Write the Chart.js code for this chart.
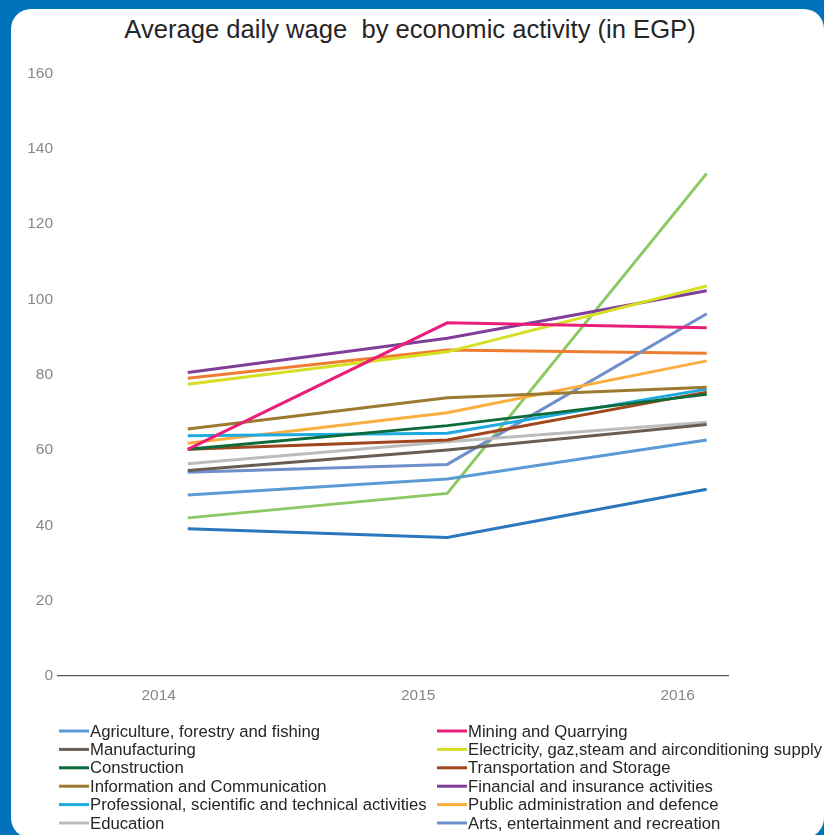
<!DOCTYPE html>
<html>
<head>
<meta charset="utf-8">
<title>Average daily wage by economic activity</title>
<script src="https://cdn.jsdelivr.net/npm/chart.js@4.4.0/dist/chart.umd.min.js"></script>
<style>
  html, body { margin: 0; padding: 0; background: #0072bc; overflow: hidden; width: 824px; height: 835px; }
  .panel { position: absolute; left: 11px; top: 9px; width: 813px; height: 829px; background: #fff; border-radius: 20px; overflow: hidden; }
  .title { position: absolute; left: 0; width: 798px; top: 5px; text-align: center; font: 25.6px "Liberation Sans", Arial, sans-serif; color: #262626; white-space: pre; line-height: 30px; }
  canvas { position: absolute; left: 0; top: 0; }
</style>
</head>
<body>
<div class="panel">
  <div class="title">Average daily wage  by economic activity (in EGP)</div>
  <canvas id="wageChart" width="813" height="829"></canvas>
</div>
<script>
// Years on the x axis
const years = [2014, 2015, 2016];

// Average daily wage (EGP) per activity, one value per year
const agriculture   = [48.1, 52.3, 62.7];
const mining        = [60.2, 93.8, 92.5];
const manufacturing = [54.6, 60.0, 66.8];
const electricity   = [77.5, 86.1, 103.6];
const construction  = [60.2, 66.5, 74.8];
const transport     = [60.2, 62.7, 75.4];
const information   = [65.6, 73.9, 76.7];
const financial     = [80.6, 89.7, 102.3];
const professional  = [63.8, 64.5, 76.2];
const publicAdmin   = [61.8, 69.9, 83.7];
const education     = [56.4, 62.2, 67.4];
const arts          = [54.1, 56.2, 96.2];
const waterSupply   = [79.1, 86.6, 85.7];
const realEstate    = [42.0, 48.5, 133.5];
const accommodation = [39.1, 36.8, 49.6];

const seriesNames = [
    'Agriculture, forestry and fishing',
    'Mining and Quarrying',
    'Manufacturing',
    'Electricity, gaz,steam and airconditioning supply',
    'Construction',
    'Transportation and Storage',
    'Information and Communication',
    'Financial and insurance activities',
    'Professional, scientific and technical activities',
    'Public administration and defence',
    'Education',
    'Arts, entertainment and recreation',
    'Water supply, sewerage and waste management',
    'Real estate activities',
    'Accommodation and food service activities'
];

const seriesValues = [
    agriculture, mining, manufacturing, electricity, construction,
    transport, information, financial, professional, publicAdmin,
    education, arts, waterSupply, realEstate, accommodation
];

const seriesColors = [
    '#5b9bd5', '#e91e79', '#6a5d53', '#d7df23', '#0c6b3a',
    '#a0461d', '#9c7a31', '#7f3f98', '#1ea9e1', '#faae40',
    '#bcbcbc', '#6f8fcc', '#ef7d31', '#8cc863', '#2a77bd'
];

const FONT = '"Liberation Sans", Arial, sans-serif';

// Two-column legend drawn under the axis
const columnLegend = {
    id: 'columnLegend',
    afterDraw(chart) {
        const ctx = chart.ctx;
        ctx.save();
        ctx.font = '16.7px ' + FONT;
        ctx.textBaseline = 'middle';
        ctx.textAlign = 'left';
        chart.data.datasets.forEach((ds, i) => {
            const x = i % 2 === 0 ? 48 : 426;
            const y = 722 + Math.floor(i / 2) * 18.4;
            ctx.strokeStyle = ds.borderColor;
            ctx.lineWidth = 3;
            ctx.beginPath();
            ctx.moveTo(x, y);
            ctx.lineTo(x + 30, y);
            ctx.stroke();
            ctx.fillStyle = '#262626';
            ctx.fillText(ds.label, x + 31, y + 1);
        });
        ctx.restore();
    }
};

const datasets = seriesNames.map((name, i) => ({
    label: name,
    data: seriesValues[i].map((v, j) => ({ x: years[j], y: v })),
    borderColor: seriesColors[i],
    backgroundColor: seriesColors[i],
    borderWidth: 3,
    pointRadius: 0,
    tension: 0
}));

new Chart(document.getElementById('wageChart'), {
    type: 'line',
    data: { datasets },
    options: {
        responsive: false,
        animation: false,
        layout: { padding: { top: 64.6, right: 96, bottom: 122, left: 0 } },
        plugins: {
            legend: { display: false },
            title: { display: false },
            tooltip: { enabled: false }
        },
        scales: {
            x: {
                type: 'linear',
                min: 2013.5,
                max: 2016.082,
                grid: { display: false, drawTicks: false },
                border: { display: true, color: '#555', width: 1.3 },
                afterFit: (scale) => { scale.height = 40; },
                ticks: {
                    stepSize: 1,
                    includeBounds: false,
                    labelOffset: -29,
                    padding: 10,
                    color: '#888',
                    font: { family: FONT, size: 15.5 },
                    callback: (v) => String(v)
                }
            },
            y: {
                min: 0,
                max: 160,
                grid: { display: false, drawTicks: false },
                border: { display: false },
                afterFit: (scale) => { scale.width = 47; },
                ticks: {
                    stepSize: 20,
                    padding: 5,
                    color: '#888',
                    font: { family: FONT, size: 15.5 }
                }
            }
        }
    },
    plugins: [columnLegend]
});
</script>
</body>
</html>
